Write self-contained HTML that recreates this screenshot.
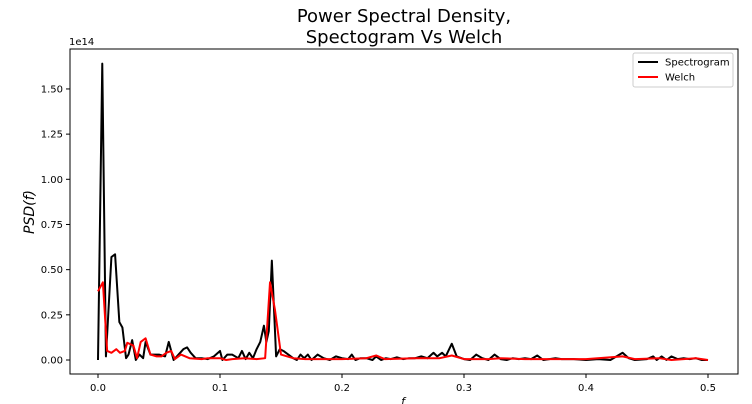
<!DOCTYPE html>
<html><head><meta charset="utf-8"><style>body{margin:0;background:#fff}svg{display:block;font-family:"DejaVu Sans","Liberation Sans",sans-serif}</style></head>
<body>
<svg id="c" width="752" height="404">
<text x="404" y="22" text-anchor="middle" font-size="18">Power Spectral Density,</text>
<text x="404" y="43" text-anchor="middle" font-size="18">Spectogram Vs Welch</text>
<g id="plot"></g>
</svg>
<script>
const specF=[0,0.0035,0.0065,0.011,0.014,0.0175,0.02,0.023,0.025,0.028,0.031,0.034,0.037,0.039,0.043,0.05,0.055,0.058,0.062,0.066,0.07,0.073,0.076,0.08,0.085,0.09,0.095,0.1,0.102,0.106,0.11,0.115,0.118,0.121,0.124,0.127,0.13,0.133,0.136,0.138,0.14,0.1425,0.146,0.149,0.152,0.156,0.16,0.163,0.166,0.169,0.172,0.175,0.18,0.185,0.19,0.195,0.2,0.205,0.208,0.211,0.215,0.22,0.225,0.228,0.232,0.236,0.24,0.245,0.25,0.255,0.26,0.265,0.27,0.275,0.278,0.282,0.285,0.29,0.294,0.3,0.305,0.31,0.315,0.32,0.325,0.33,0.335,0.34,0.345,0.35,0.355,0.36,0.365,0.37,0.375,0.38,0.39,0.4,0.41,0.42,0.43,0.435,0.44,0.45,0.455,0.458,0.462,0.466,0.47,0.475,0.48,0.485,0.49,0.495,0.5];
const specV=[0,1.64,0.02,0.57,0.585,0.21,0.18,0.01,0.03,0.11,0.0,0.03,0.01,0.10,0.03,0.03,0.02,0.10,0.0,0.03,0.06,0.07,0.04,0.01,0.01,0.005,0.02,0.05,0.0,0.03,0.03,0.01,0.05,0.005,0.04,0.01,0.06,0.1,0.19,0.1,0.16,0.55,0.02,0.06,0.05,0.03,0.01,0.0,0.03,0.01,0.03,0.0,0.03,0.01,0.0,0.02,0.01,0.005,0.03,0.0,0.01,0.01,0.0,0.02,0.0,0.01,0.005,0.015,0.005,0.01,0.01,0.02,0.01,0.04,0.02,0.04,0.02,0.09,0.02,0.005,0.0,0.03,0.01,0.0,0.03,0.005,0.0,0.01,0.005,0.01,0.005,0.025,0.0,0.005,0.01,0.005,0.005,0.0,0.005,0.0,0.04,0.01,0.0,0.005,0.02,0.0,0.02,0.0,0.02,0.005,0.01,0.005,0.01,0.0,0.0];
const welchF=[0,0.004,0.0075,0.011,0.015,0.018,0.022,0.024,0.029,0.032,0.035,0.039,0.043,0.048,0.052,0.056,0.06,0.063,0.068,0.075,0.085,0.09,0.1,0.105,0.11,0.12,0.13,0.137,0.141,0.145,0.15,0.16,0.17,0.2,0.22,0.228,0.235,0.26,0.28,0.29,0.3,0.32,0.33,0.35,0.4,0.43,0.44,0.46,0.47,0.49,0.5];
const welchV=[0.38,0.43,0.05,0.04,0.06,0.04,0.05,0.095,0.08,0.01,0.1,0.12,0.03,0.02,0.02,0.04,0.05,0.005,0.03,0.01,0.005,0.01,0.01,0.0,0.005,0.01,0.005,0.01,0.43,0.28,0.03,0.01,0.005,0.005,0.01,0.025,0.005,0.01,0.01,0.025,0.005,0.005,0.01,0.005,0.005,0.02,0.005,0.01,0.0,0.01,0.0];
const xTicks=[0.0,0.1,0.2,0.3,0.4,0.5];
const yTicks=[0,0.25,0.5,0.75,1.0,1.25,1.5];
const L=70,R=738,T=49,B=374;
const xs=f=>98+f*1220, ys=v=>360-v*180.7;
const NS='http://www.w3.org/2000/svg', g=document.getElementById('plot');
function mk(t,a,txt){const e=document.createElementNS(NS,t);for(const k in a)e.setAttribute(k,a[k]);if(txt!=null)e.textContent=txt;g.appendChild(e);return e;}
let e;
xTicks.forEach(t=>{
 e=mk('line',{x1:xs(t),x2:xs(t),y1:B,y2:B+4,stroke:'#000'});
 
 
 e=mk('text',{x:xs(t),y:B+17,'text-anchor':'middle','font-size':10},t.toFixed(1));
 
 
});
yTicks.forEach(t=>{
 e=mk('line',{x1:L-4,x2:L,y1:ys(t),y2:ys(t),stroke:'#000'});
 
 
 e=mk('text',{x:L-7,y:ys(t)+3.5,'text-anchor':'end','font-size':10},t.toFixed(2));
 
 
});
function line(F,V,c,n){
 e=mk('polyline',{points:F.map((f,i)=>xs(f)+','+ys(V[i])).join(' '),fill:'none',stroke:c,'stroke-width':2,'stroke-linejoin':'round'});
 
 
}
line(specF,specV,'#000','spectrogram-line');
line(welchF,welchV,'#f00','welch-line');
e=mk('rect',{x:L,y:T,width:R-L,height:B-T,fill:'none',stroke:'#000','stroke-width':1});


e=mk('text',{x:69,y:45,'font-size':10},'1e14');


e=mk('text',{x:34,y:212,'font-size':14,'font-style':'italic','text-anchor':'middle',transform:'rotate(-90 34 212)'},'PSD(f)');


e=mk('text',{x:403,y:405,'font-size':11,'font-style':'italic','text-anchor':'middle'},'f');


e=mk('rect',{x:633,y:53,width:100,height:34,fill:'#fff',stroke:'#ccc',rx:2});


[['Spectrogram','#000',65],['Welch','#f00',80]].forEach(([n,c,y])=>{
 e=mk('line',{x1:638,x2:658,y1:y-3,y2:y-3,stroke:c,'stroke-width':2});
 
 
 e=mk('text',{x:665,y:y+0.5,'font-size':10},n);
 
 
});
</script>
</body></html>
